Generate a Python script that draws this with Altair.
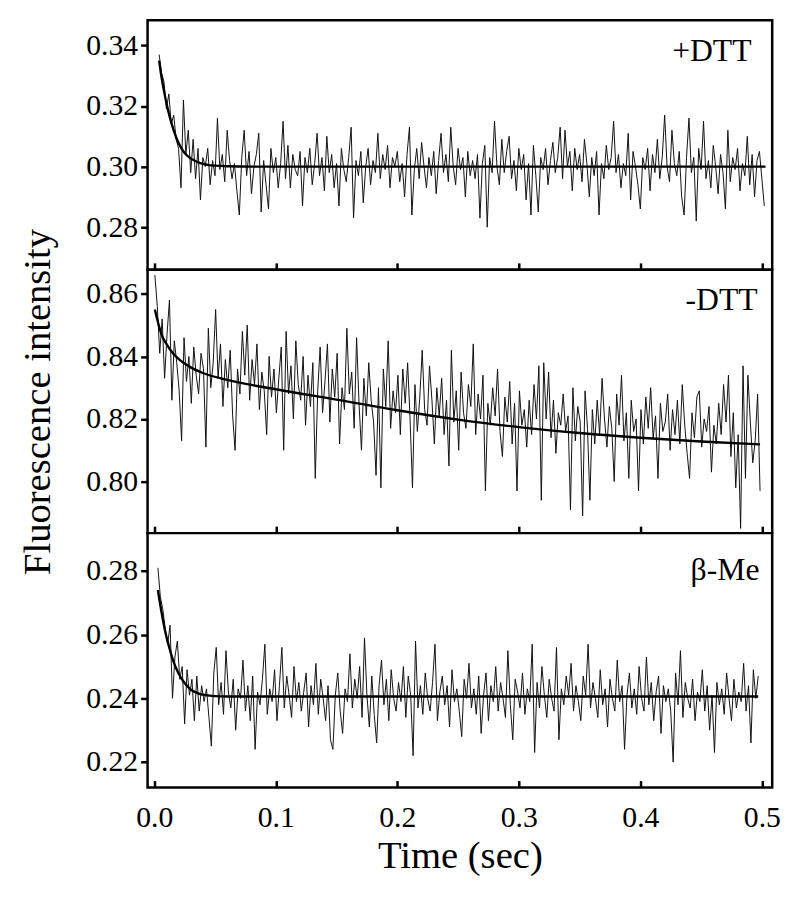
import altair as alt
import pandas as pd

FONT = "Liberation Serif"

# ---------------- shared x axis ----------------
X_DOMAIN = [-0.0055, 0.5085]
X_TICKS = [0.0, 0.1, 0.2, 0.3, 0.4, 0.5]
STEP = 0.002  # sampling interval of the traces (s)

# ---------------- +DTT ----------------
PLUS_START = 0.004
PLUS_TRACE = [
    0.337, 0.331, 0.328, 0.319, 0.324, 0.314, 0.317, 0.309, 0.306, 0.293,
    0.322, 0.304, 0.312, 0.298, 0.309, 0.296, 0.306, 0.289, 0.303, 0.300,
    0.306, 0.294, 0.302, 0.297, 0.316, 0.299, 0.304, 0.295, 0.312, 0.302,
    0.296, 0.301, 0.292, 0.284, 0.303, 0.312, 0.297, 0.305, 0.291, 0.300,
    0.304, 0.311, 0.285, 0.302, 0.294, 0.286, 0.306, 0.298, 0.303, 0.293,
    0.301, 0.315, 0.296, 0.307, 0.293, 0.304, 0.299, 0.297, 0.305, 0.287,
    0.303, 0.298, 0.306, 0.294, 0.301, 0.311, 0.297, 0.303, 0.292, 0.310,
    0.298, 0.304, 0.293, 0.301, 0.287, 0.306, 0.299, 0.295, 0.303, 0.313,
    0.283, 0.302, 0.297, 0.305, 0.288, 0.300, 0.306, 0.294, 0.302, 0.298,
    0.311, 0.296, 0.304, 0.299, 0.307, 0.293, 0.303, 0.300, 0.305, 0.295,
    0.301, 0.290, 0.304, 0.313, 0.284, 0.299, 0.306, 0.296, 0.308, 0.300,
    0.293, 0.303, 0.297, 0.305, 0.291, 0.302, 0.311, 0.298, 0.304, 0.295,
    0.313, 0.300, 0.294, 0.306, 0.299, 0.303, 0.290, 0.305, 0.297, 0.302,
    0.296, 0.304, 0.283, 0.301, 0.307, 0.280, 0.303, 0.298, 0.315, 0.300,
    0.294, 0.309, 0.298, 0.305, 0.310, 0.296, 0.302, 0.292, 0.306, 0.299,
    0.304, 0.289, 0.301, 0.284, 0.307, 0.297, 0.285, 0.303, 0.299, 0.306,
    0.294, 0.302, 0.308, 0.298, 0.303, 0.313, 0.296, 0.312, 0.300, 0.305,
    0.292, 0.306, 0.299, 0.304, 0.295, 0.309, 0.301, 0.290, 0.303, 0.297,
    0.305, 0.284, 0.301, 0.296, 0.307, 0.299, 0.303, 0.315, 0.298, 0.304,
    0.293, 0.301, 0.297, 0.311, 0.289, 0.305, 0.300, 0.294, 0.286, 0.303,
    0.299, 0.306, 0.292, 0.304, 0.298, 0.309, 0.296, 0.303, 0.317, 0.300,
    0.295, 0.312, 0.301, 0.297, 0.305, 0.290, 0.284, 0.303, 0.316, 0.298,
    0.303, 0.282, 0.306, 0.299, 0.315, 0.296, 0.302, 0.293, 0.307, 0.300,
    0.291, 0.304, 0.298, 0.286, 0.312, 0.295, 0.303, 0.299, 0.306, 0.292,
    0.301, 0.297, 0.310, 0.294, 0.304, 0.290, 0.302, 0.305, 0.296, 0.287,
]
PLUS_FIT_T = [0.004, 0.006, 0.008, 0.010, 0.013, 0.016, 0.020, 0.025, 0.030,
              0.035, 0.040, 0.045, 0.050, 0.060, 0.080, 0.503]
PLUS_FIT_V = [0.335, 0.3295, 0.3250, 0.3210, 0.3160, 0.3120, 0.3078, 0.3045, 0.3027,
              0.3016, 0.3009, 0.3005, 0.3003, 0.3001, 0.3000, 0.3000]
PLUS_Y_DOMAIN = [0.2659, 0.3483]
PLUS_Y_TICKS = [0.28, 0.30, 0.32, 0.34]

# ---------------- -DTT ----------------
MINUS_START = 0.0005
MINUS_TRACE = [
    0.866, 0.856, 0.841, 0.852, 0.833, 0.847, 0.858, 0.826, 0.845, 0.838,
    0.829, 0.813, 0.846, 0.832, 0.840, 0.825, 0.843, 0.834, 0.828, 0.841,
    0.836, 0.811, 0.849, 0.830, 0.838, 0.855, 0.833, 0.844, 0.824, 0.839,
    0.830, 0.842, 0.821, 0.810, 0.836, 0.828, 0.848, 0.834, 0.850, 0.826,
    0.839, 0.831, 0.844, 0.823, 0.835, 0.829, 0.815, 0.840, 0.827, 0.836,
    0.822, 0.833, 0.843, 0.810, 0.848, 0.828, 0.837, 0.820, 0.845, 0.831,
    0.826, 0.840, 0.818, 0.834, 0.824, 0.838, 0.801, 0.829, 0.843, 0.822,
    0.832, 0.844, 0.819, 0.836, 0.827, 0.841, 0.812, 0.830, 0.823, 0.849,
    0.828, 0.835, 0.817, 0.846, 0.825, 0.810, 0.833, 0.821, 0.838, 0.826,
    0.819, 0.802, 0.830, 0.798, 0.836, 0.824, 0.845, 0.817, 0.829, 0.822,
    0.834, 0.815, 0.836, 0.825, 0.838, 0.820, 0.798, 0.831, 0.816, 0.827,
    0.842, 0.823, 0.818, 0.837, 0.826, 0.812, 0.830, 0.821, 0.833, 0.815,
    0.826, 0.805, 0.842, 0.819, 0.829, 0.810, 0.835, 0.822, 0.817, 0.831,
    0.824, 0.844, 0.815, 0.828, 0.820, 0.834, 0.797, 0.825, 0.818, 0.830,
    0.821, 0.836, 0.816, 0.808, 0.827, 0.819, 0.832, 0.812, 0.825, 0.797,
    0.829, 0.818, 0.823, 0.811, 0.826, 0.815, 0.831, 0.820, 0.837, 0.794,
    0.838, 0.820, 0.835, 0.814, 0.826, 0.809, 0.822, 0.818, 0.828, 0.816,
    0.821, 0.791, 0.830, 0.813, 0.824, 0.819, 0.789, 0.829, 0.817, 0.794,
    0.823, 0.812, 0.826, 0.815, 0.833, 0.820, 0.811, 0.824, 0.817, 0.800,
    0.828, 0.818, 0.834, 0.813, 0.822, 0.801, 0.826, 0.816, 0.820, 0.797,
    0.823, 0.812, 0.827, 0.817, 0.830, 0.814, 0.821, 0.801, 0.825, 0.816,
    0.819, 0.828, 0.810, 0.823, 0.815, 0.826, 0.812, 0.831, 0.818, 0.809,
    0.801, 0.822, 0.814, 0.827, 0.829, 0.811, 0.820, 0.816, 0.824, 0.803,
    0.818, 0.812, 0.825, 0.815, 0.831, 0.819, 0.834, 0.808, 0.822, 0.798,
    0.815, 0.785, 0.837, 0.801, 0.834, 0.819, 0.806, 0.813, 0.828, 0.797,
]
MINUS_FIT_T = [0.0005, 0.003, 0.006, 0.010, 0.015, 0.020, 0.030, 0.040, 0.060,
               0.100, 0.150, 0.200, 0.250, 0.300, 0.350, 0.400, 0.450, 0.4985]
MINUS_FIT_V = [0.855, 0.851, 0.847, 0.8440, 0.8412, 0.8392, 0.8365, 0.8347, 0.8325,
               0.8295, 0.8262, 0.8228, 0.8198, 0.8174, 0.8155, 0.8140, 0.8128, 0.8119]
MINUS_Y_DOMAIN = [0.7835, 0.8677]
MINUS_Y_TICKS = [0.80, 0.82, 0.84, 0.86]

# ---------------- beta-Me ----------------
BME_START = 0.003
BME_TRACE = [
    0.281, 0.272, 0.268, 0.262, 0.257, 0.263, 0.240, 0.253, 0.258, 0.246,
    0.250, 0.232, 0.249, 0.241, 0.246, 0.233, 0.247, 0.236, 0.244, 0.239,
    0.243, 0.234, 0.225, 0.248, 0.256, 0.238, 0.245, 0.235, 0.255, 0.242,
    0.237, 0.246, 0.230, 0.243, 0.240, 0.252, 0.236, 0.244, 0.233, 0.247,
    0.224, 0.242, 0.238, 0.246, 0.257, 0.235, 0.243, 0.239, 0.249, 0.233,
    0.244, 0.256, 0.237, 0.247, 0.241, 0.234, 0.250, 0.239, 0.245, 0.236,
    0.242, 0.248, 0.231, 0.244, 0.238, 0.251, 0.235, 0.246, 0.240, 0.233,
    0.244, 0.227, 0.224, 0.241, 0.248, 0.236, 0.229, 0.243, 0.239, 0.254,
    0.237, 0.246, 0.240, 0.250, 0.234, 0.259, 0.241, 0.231, 0.247, 0.235,
    0.226, 0.244, 0.252, 0.238, 0.246, 0.233, 0.249, 0.240, 0.236, 0.245,
    0.239, 0.250, 0.234, 0.247, 0.241, 0.222, 0.258, 0.237, 0.244, 0.235,
    0.248, 0.240, 0.236, 0.245, 0.257, 0.233, 0.242, 0.247, 0.238, 0.244,
    0.231, 0.249, 0.239, 0.243, 0.236, 0.228, 0.246, 0.240, 0.251, 0.237,
    0.243, 0.235, 0.247, 0.229, 0.241, 0.248, 0.233, 0.244, 0.239, 0.250,
    0.236, 0.245, 0.240, 0.234, 0.255, 0.238, 0.227, 0.246, 0.242, 0.237,
    0.248, 0.235, 0.243, 0.239, 0.257, 0.223, 0.245, 0.237, 0.250, 0.241,
    0.234, 0.246, 0.240, 0.236, 0.256, 0.227, 0.243, 0.238, 0.247, 0.241,
    0.251, 0.236, 0.244, 0.239, 0.233, 0.247, 0.241, 0.257, 0.237, 0.245,
    0.240, 0.234, 0.249, 0.238, 0.243, 0.231, 0.246, 0.240, 0.236, 0.252,
    0.239, 0.244, 0.224, 0.241, 0.248, 0.237, 0.243, 0.235, 0.250, 0.240,
    0.236, 0.253, 0.238, 0.245, 0.233, 0.242, 0.247, 0.229, 0.244, 0.239,
    0.243, 0.236, 0.220, 0.248, 0.238, 0.255, 0.234, 0.245, 0.240, 0.237,
    0.246, 0.233, 0.242, 0.239, 0.249, 0.236, 0.244, 0.230, 0.241, 0.223,
    0.245, 0.238, 0.243, 0.235, 0.248, 0.240, 0.233, 0.246, 0.237, 0.242,
    0.239, 0.251, 0.236, 0.244, 0.226, 0.249, 0.240, 0.247,
]
BME_FIT_T = [0.003, 0.006, 0.009, 0.012, 0.015, 0.020, 0.025, 0.030, 0.036,
             0.042, 0.050, 0.060, 0.497]
BME_FIT_V = [0.274, 0.267, 0.261, 0.2565, 0.2525, 0.2478, 0.2448, 0.2428, 0.2416,
             0.2410, 0.2407, 0.2406, 0.2406]
BME_Y_DOMAIN = [0.2120, 0.2919]
BME_Y_TICKS = [0.22, 0.24, 0.26, 0.28]

# panel labels: text, anchor time, anchor value
LABELS = [("+DTT", 0.4915, 0.3349), ("-DTT", 0.4965, 0.8548), ("β-Me", 0.4980, 0.2772)]

WIDTH = 631
HEIGHTS = [252, 266, 257]


def panel(start, trace, fit_t, fit_v, ydom, yticks, label, height, bottom, ytitle):
    tdf = pd.DataFrame({"t": [round(start + STEP * i, 4) for i in range(len(trace))],
                        "v": trace})
    fdf = pd.DataFrame({"t": fit_t, "v": fit_v})
    ldf = pd.DataFrame({"t": [label[1]], "v": [label[2]], "txt": [label[0]]})

    xkw = dict(values=X_TICKS, format=".1f", offset=-7, tickSize=7, tickWidth=2.5,
               tickColor="black", domain=False, grid=False, labels=bottom,
               labelFont=FONT, labelFontSize=30, labelColor="black", labelPadding=15,
               labelFlush=False)
    if bottom:
        xkw.update(title="Time (sec)", titleFont=FONT, titleFontSize=39,
                   titleFontWeight="normal", titleColor="black", titlePadding=5)
    else:
        xkw.update(title="")
    ykw = dict(values=yticks, format=".2f", tickSize=7, tickWidth=2.5, tickColor="black",
               domain=False, grid=False, labelFont=FONT, labelFontSize=30,
               labelColor="black", labelPadding=3)
    if ytitle:
        ykw.update(title="Fluorescence intensity", titleFont=FONT, titleFontSize=39,
                   titleFontWeight="normal", titleColor="black", titlePadding=29)
    else:
        ykw.update(title="")

    x = alt.X("t:Q", scale=alt.Scale(domain=X_DOMAIN, nice=False, zero=False),
              axis=alt.Axis(**xkw))
    y = alt.Y("v:Q", scale=alt.Scale(domain=ydom, nice=False, zero=False),
              axis=alt.Axis(**ykw))

    trace_layer = alt.Chart(tdf).mark_line(color="#111111", strokeWidth=1.0, clip=True).encode(x=x, y=y)
    fit_layer = alt.Chart(fdf).mark_line(color="black", strokeWidth=2.4, interpolate="monotone",
                                         clip=True).encode(x="t:Q", y="v:Q")
    text_layer = alt.Chart(ldf).mark_text(align="right", baseline="alphabetic", font=FONT,
                                          fontSize=32, color="black").encode(
        x="t:Q", y="v:Q", text="txt:N")
    return alt.layer(trace_layer, fit_layer, text_layer).properties(width=WIDTH, height=height)


p1 = panel(PLUS_START, PLUS_TRACE, PLUS_FIT_T, PLUS_FIT_V, PLUS_Y_DOMAIN, PLUS_Y_TICKS,
           LABELS[0], HEIGHTS[0], False, False)
p2 = panel(MINUS_START, MINUS_TRACE, MINUS_FIT_T, MINUS_FIT_V, MINUS_Y_DOMAIN, MINUS_Y_TICKS,
           LABELS[1], HEIGHTS[1], False, True)
p3 = panel(BME_START, BME_TRACE, BME_FIT_T, BME_FIT_V, BME_Y_DOMAIN, BME_Y_TICKS,
           LABELS[2], HEIGHTS[2], True, False)

chart = alt.vconcat(p1, p2, p3, spacing=0, bounds="flush").properties(
    padding={"left": 9, "top": 6, "right": 10, "bottom": 5},
    background="white",
).configure_view(stroke="black", strokeWidth=2.5, fill="white")

chart.save("out.html", embed_options={"renderer": "svg", "actions": False})
